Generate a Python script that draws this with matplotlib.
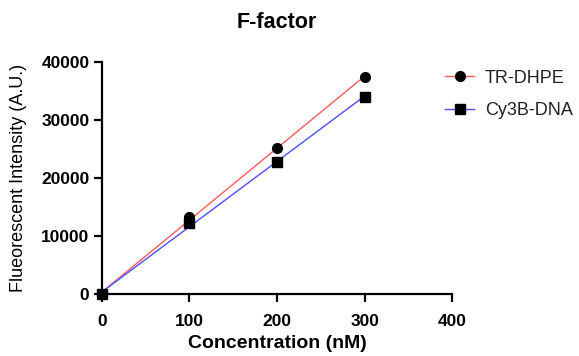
import numpy as np
import matplotlib
matplotlib.use('Agg')
import matplotlib.pyplot as plt

plt.rcParams['font.family'] = ['Liberation Sans', 'DejaVu Sans']

# 数据
conc = [0, 100, 200, 300]
tr_dhpe = [0, 13300, 25100, 37400]
cy3b_dna = [0, 12200, 22750, 34000]
xticks = [0, 100, 200, 300, 400]
yticks = [0, 10000, 20000, 30000, 40000]

fig = plt.figure(figsize=(5.79, 3.56), dpi=100)
ax = fig.add_axes([0.176, 0.174, 0.605, 0.652])

x = np.array(conc)
for y, col, mk, lab in [(tr_dhpe, '#ff5a5a', 'o', 'TR-DHPE'),
                        (cy3b_dna, '#4d4dff', 's', 'Cy3B-DNA')]:
    k, b = np.polyfit(x, y, 1)
    ax.plot([x[0], x[-1]], [k * x[0] + b, k * x[-1] + b], color=col, lw=1, zorder=2)
    ax.plot(x, y, mk, color='black', ms=7, clip_on=False, zorder=3)
    # 图例用的句柄
    ax.plot([], [], color=col, lw=1, marker=mk, mfc='black', mec='black', ms=7, label=lab)

ax.set_xlim(0, 400)
ax.set_ylim(0, 40000)
ax.set_xticks(xticks)
ax.set_yticks(yticks)
for s in ['top', 'right']:
    ax.spines[s].set_visible(False)
for s in ['left', 'bottom']:
    ax.spines[s].set_linewidth(1.6)
ax.tick_params(width=1.6, length=6, labelsize=12.5)
ax.tick_params(axis='x', pad=8)
ax.tick_params(axis='y', pad=3)
for t in ax.get_xticklabels() + ax.get_yticklabels():
    t.set_fontweight('bold')

fig.text(0.478, 0.938, 'F-factor', fontsize=15.5, fontweight='bold', ha='center', va='center')
ax.set_xlabel('Concentration (nM)', fontsize=14, fontweight='bold', labelpad=5)
ax.set_ylabel('Flueorescent Intensity (A.U.)', fontsize=13, labelpad=10)

ax.legend(loc='center left', bbox_to_anchor=(0.98, 0.86), frameon=False, fontsize=13,
          borderpad=0, borderaxespad=0, handlelength=1.6, handletextpad=0.6,
          labelspacing=0.85, labelcolor='#222222')

fig.savefig('out.png', dpi=100)
